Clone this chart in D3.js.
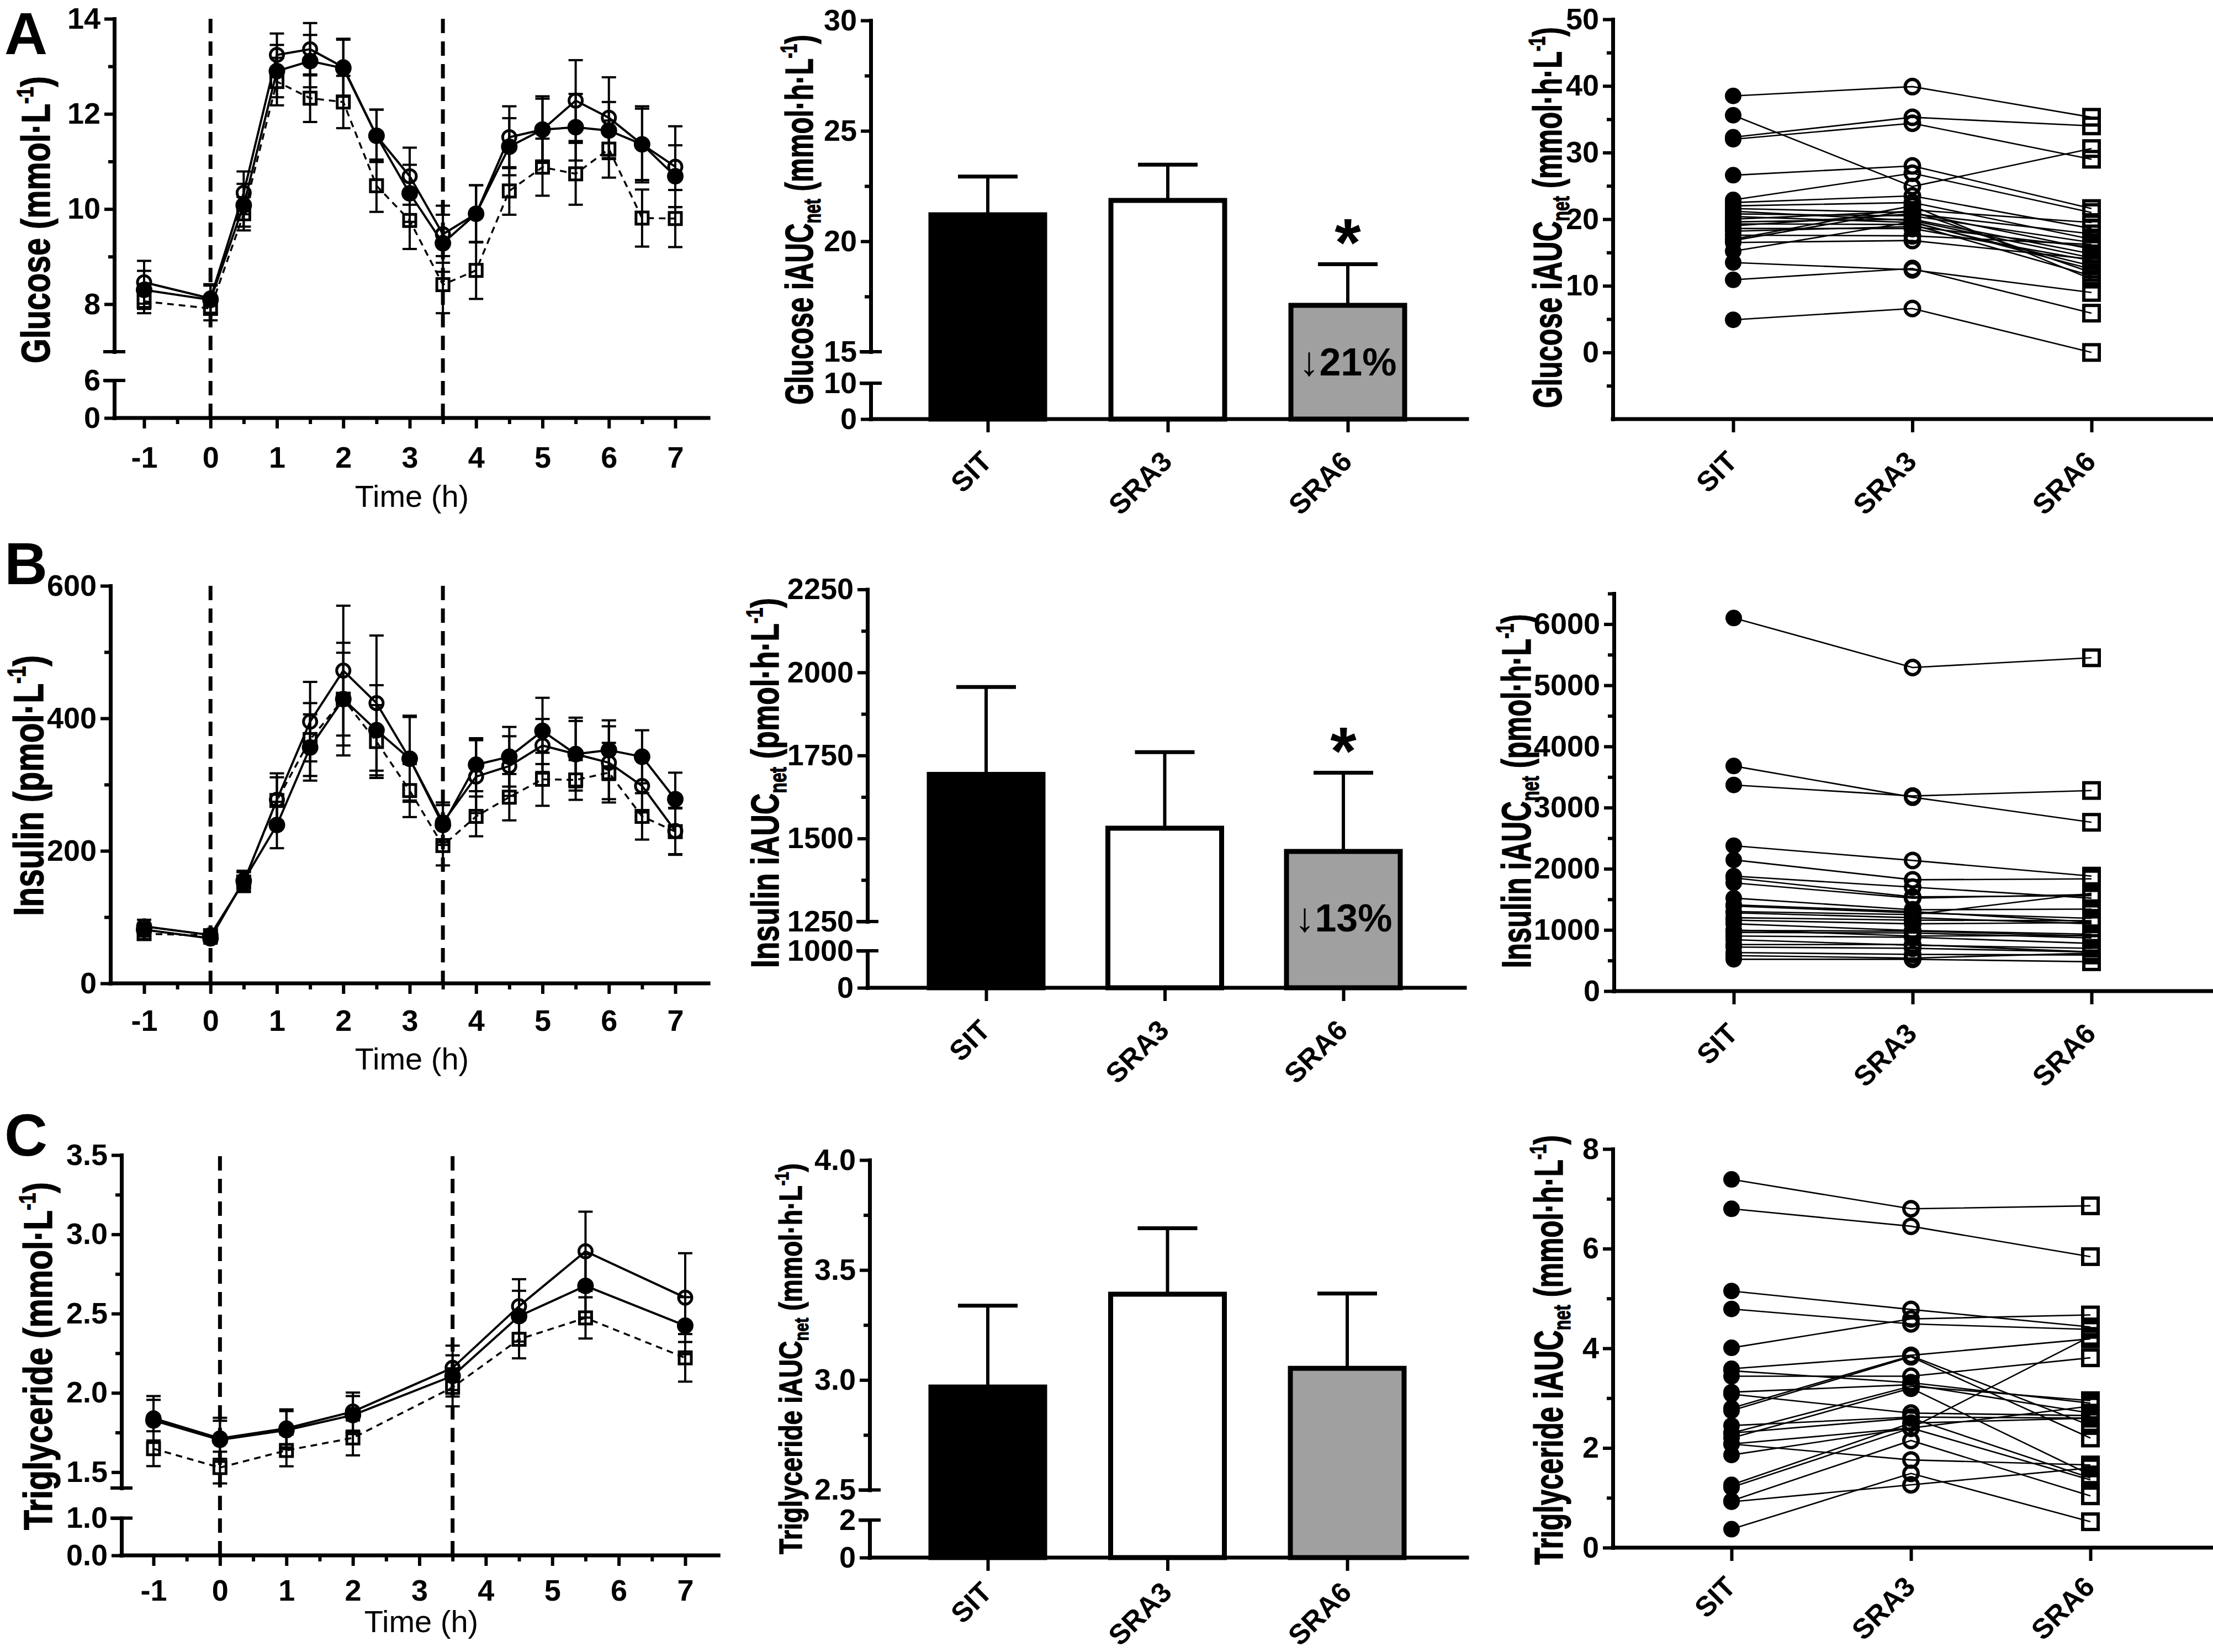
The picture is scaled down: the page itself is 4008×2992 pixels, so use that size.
<!DOCTYPE html>
<html><head><meta charset="utf-8">
<script src="https://cdn.jsdelivr.net/npm/d3@7"></script>
<style>html,body{margin:0;padding:0;background:#fff}</style>
</head><body>
<svg id="fig" width="4008" height="2992" xmlns="http://www.w3.org/2000/svg"></svg>
<script>
// ================= DATA =================
const groups = ["SIT", "SRA3", "SRA6"];
const timeGI = [-1, 0, 0.5, 1, 1.5, 2, 2.5, 3, 3.5, 4, 4.5, 5, 5.5, 6, 6.5, 7];
const timeTG = [-1, 0, 1, 2, 3.5, 4.5, 5.5, 7];
const timeTickLabels = [-1, 0, 1, 2, 3, 4, 5, 6, 7];
const timeMinorTicks = [-0.5, 0.5, 1.5, 2.5, 3.5, 4.5, 5.5, 6.5];
const mealLines = [0, 3.5];

// Glucose time course (mmol/L), mean and SEM
const glucoseSIT    = [8.30, 8.09, 10.08, 12.90, 13.11, 12.96, 11.54, 10.33, 9.28, 9.90, 11.31, 11.67, 11.72, 11.65, 11.36, 10.69];
const glucoseSITse  = [0.40, 0.30, 0.45, 0.55, 0.55, 0.60, 0.55, 0.60, 0.60, 0.60, 0.60, 0.65, 0.70, 0.60, 0.75, 0.65];
const glucoseSRA3   = [8.46, 8.12, 10.34, 13.24, 13.36, 12.98, 11.54, 10.69, 9.47, 9.90, 11.51, 11.67, 12.28, 11.92, 11.36, 10.89];
const glucoseSRA3se = [0.45, 0.30, 0.45, 0.45, 0.55, 0.60, 0.55, 0.60, 0.60, 0.60, 0.65, 0.70, 0.85, 0.85, 0.80, 0.85];
const glucoseSRA6   = [8.06, 7.91, 9.90, 12.68, 12.33, 12.25, 10.49, 9.76, 8.41, 8.71, 10.38, 10.88, 10.74, 11.26, 9.81, 9.80];
const glucoseSRA6se = [0.25, 0.25, 0.35, 0.50, 0.50, 0.55, 0.55, 0.60, 0.60, 0.60, 0.50, 0.60, 0.65, 0.60, 0.60, 0.60];

// Insulin time course (pmol/L)
const insulinSIT    = [81, 68, 155, 239, 356, 429, 382, 339, 239, 330, 342, 381, 346, 352, 342, 278];
const insulinSITse  = [10, 8, 15, 35, 50, 85, 68, 63, 30, 40, 45, 50, 55, 45, 40, 40];
const insulinSRA3   = [86, 73, 153, 277, 395, 472, 423, 339, 243, 312, 328, 359, 346, 333, 298, 230];
const insulinSRA3se = [10, 8, 15, 40, 60, 98, 102, 65, 30, 55, 45, 40, 50, 55, 40, 35];
const insulinSRA6   = [75, 72, 153, 276, 368, 429, 365, 291, 208, 252, 281, 308, 307, 318, 252, 229];
const insulinSRA6se = [8, 8, 15, 35, 55, 70, 55, 40, 30, 30, 35, 40, 30, 45, 35, 35];

// Triglyceride time course (mmol/L)
const tgSIT    = [1.826, 1.704, 1.765, 1.860, 2.107, 2.484, 2.675, 2.424];
const tgSITse  = [0.13, 0.12, 0.12, 0.12, 0.13, 0.16, 0.20, 0.18];
const tgSRA3   = [1.840, 1.713, 1.776, 1.882, 2.158, 2.547, 2.893, 2.601];
const tgSRA3se = [0.14, 0.13, 0.12, 0.12, 0.14, 0.17, 0.25, 0.28];
const tgSRA6   = [1.648, 1.529, 1.637, 1.716, 2.035, 2.338, 2.473, 2.221];
const tgSRA6se = [0.11, 0.10, 0.10, 0.11, 0.12, 0.12, 0.13, 0.15];

// iAUC net bars (mean, SEM)
const glucoseAUC   = [21.20, 21.85, 17.10];
const glucoseAUCse = [1.73, 1.62, 1.86];
const insulinAUC   = [1693, 1531, 1461];
const insulinAUCse = [263, 229, 237];
const tgAUC        = [2.968, 3.390, 3.053];
const tgAUCse      = [0.370, 0.300, 0.340];

// Individual iAUC net values
const glucoseIndSIT  = [38.5, 35.6, 32.3, 32.0, 26.6, 22.9, 22.5, 22.0, 21.6, 21.2, 20.8, 20.4, 20.0, 19.6, 19.3, 18.6, 18.2, 17.6, 16.8, 16.5, 15.2, 13.5, 10.9, 4.9, 19.0, 17.0];
const glucoseIndSRA3 = [39.9, 24.9, 35.3, 34.4, 28.0, 26.9, 23.5, 22.5, 21.0, 19.8, 20.5, 19.5, 21.2, 20.0, 19.2, 18.6, 18.9, 17.5, 21.4, 16.8, 19.6, 12.4, 12.6, 6.6, 20.8, 22.0];
const glucoseIndSRA6 = [35.3, 30.6, 34.0, 29.0, 21.6, 21.0, 18.6, 17.0, 15.5, 14.2, 16.5, 13.0, 12.0, 14.8, 11.5, 13.8, 15.8, 16.2, 19.5, 14.0, 12.5, 9.0, 5.9, 0.0, 17.8, 11.0];

const insulinIndSIT  = [6100, 3680, 3370, 2377, 2145, 1880, 1850, 1770, 1520, 1410, 1390, 1280, 1200, 1100, 990, 960, 900, 840, 760, 720, 630, 520, 1000, 1300, 1160, 580];
const insulinIndSRA3 = [5290, 3170, 3190, 2136, 1820, 1700, 1540, 1520, 1330, 1300, 1280, 1200, 1160, 990, 980, 950, 880, 750, 760, 700, 600, 520, 900, 1250, 1100, 540];
const insulinIndSRA6 = [5450, 2760, 3280, 1880, 1835, 1520, 1560, 1580, 1340, 1130, 1190, 1100, 1150, 930, 900, 870, 780, 700, 640, 640, 590, 480, 910, 1600, 1120, 620];

const tgIndSIT  = [7.39, 6.80, 5.15, 4.79, 4.01, 3.59, 3.55, 3.44, 3.12, 3.08, 2.80, 2.75, 2.45, 2.30, 2.20, 2.08, 2.08, 1.86, 1.26, 1.21, 0.94, 0.92, 0.37, 2.30];
const tgIndSRA3 = [6.80, 6.45, 4.78, 4.49, 4.59, 3.86, 3.31, 3.44, 3.27, 2.70, 3.85, 3.83, 2.62, 3.24, 3.20, 2.40, 1.76, 2.40, 2.50, 2.40, 2.15, 1.26, 1.49, 2.60];
const tgIndSRA6 = [6.86, 5.84, 4.43, 4.38, 4.67, 4.19, 2.90, 3.81, 2.70, 2.65, 2.45, 2.20, 2.60, 2.95, 1.46, 1.36, 1.66, 2.84, 2.60, 4.24, 1.04, 1.60, 0.52, 1.40];

// ================= DRAWING =================
const svg = d3.select("#fig");
svg.append("rect").attr("width", 4008).attr("height", 2992).attr("fill", "#fff");
const FONT = "'Liberation Sans', Arial, Helvetica, sans-serif";
const TICKFS = 54;
const intFmt = d => String(d);   // hyphen minus like the original

function brokenY(up, upR, lo, loR) {
  const u = d3.scaleLinear().domain(up).range(upR);
  const l = lo ? d3.scaleLinear().domain(lo).range(loR) : null;
  const f = v => (!l || v >= up[0]) ? u(v) : l(Math.min(v, lo[1]));
  f.upper = u; f.lower = l;
  return f;
}

function styleAxis(g) {
  g.attr("font-family", FONT).attr("font-size", TICKFS).attr("font-weight", "bold");
  g.selectAll(".domain").attr("stroke", "#000").attr("stroke-width", 7).attr("stroke-linecap", "square");
  g.selectAll(".tick line").attr("stroke", "#000").attr("stroke-width", 6);
  g.selectAll(".tick text").attr("fill", "#000");
}

function yAxisSeg(x, scale, major, minor, fmt) {
  const gg = svg.append("g").attr("transform", `translate(${x},0)`)
    .call(d3.axisLeft(scale).tickValues(major).tickSize(18).tickSizeOuter(0).tickPadding(7).tickFormat(fmt));
  styleAxis(gg);
  if (minor && minor.length) {
    const m = svg.append("g").attr("transform", `translate(${x},0)`)
      .call(d3.axisLeft(scale).tickValues(minor).tickSize(11).tickSizeOuter(0).tickFormat(""));
    m.select(".domain").remove();
    m.selectAll(".tick line").attr("stroke", "#000").attr("stroke-width", 6);
  }
}

function breakCaps(x, ys) {
  svg.selectAll(null).data(ys).join("line")
    .attr("x1", x - 20).attr("x2", x + 20).attr("y1", d => d).attr("y2", d => d)
    .attr("stroke", "#000").attr("stroke-width", 6);
}

function yLabel(x, cy, len, fs, parts) {
  const t = svg.append("text")
    .attr("text-anchor", "middle").attr("font-family", FONT).attr("font-weight", "bold")
    .attr("font-size", fs).attr("fill", "#000").attr("stroke", "#000").attr("stroke-width", 1.4);
  let shift = 0;
  parts.forEach(p => {
    const s = t.append("tspan").text(p[0]);
    const target = p[1] === "sup" ? -0.42 * fs : p[1] === "sub" ? 0.2 * fs : 0;
    s.attr("dy", target - shift);
    shift = target;
    if (p[1] !== "n") s.attr("font-size", 0.6 * fs);
  });
  const natural = t.node().getComputedTextLength();
  const k = len / natural;
  t.attr("transform", `translate(${x},${cy}) rotate(-90) scale(${k},1)`);
}

function drawMarker(g, kind, pts, sz) {
  if (kind === "filled") {
    g.selectAll(null).data(pts).join("circle").attr("cx", d => d[0]).attr("cy", d => d[1])
      .attr("r", sz.r).attr("fill", "#000");
  } else if (kind === "open") {
    g.selectAll(null).data(pts).join("circle").attr("cx", d => d[0]).attr("cy", d => d[1])
      .attr("r", sz.ro).attr("fill", "none").attr("stroke", "#000").attr("stroke-width", sz.sw);
  } else {
    g.selectAll(null).data(pts).join("rect").attr("x", d => d[0] - sz.s / 2).attr("y", d => d[1] - sz.s / 2)
      .attr("width", sz.s).attr("height", sz.s).attr("fill", "none").attr("stroke", "#000").attr("stroke-width", sz.sw);
  }
}

const markerKinds = ["filled", "open", "square"];

// ---------- line (time-course) panels ----------
function linePanel(o) {
  const x = d3.scaleLinear().domain([-1, 7]).range(o.xr);
  const y = o.y;
  const g = svg.append("g");
  g.selectAll(null).data(mealLines).join("line")
    .attr("x1", d => x(d)).attr("x2", d => x(d)).attr("y1", o.top).attr("y2", o.xAxisY)
    .attr("stroke", "#000").attr("stroke-width", 7).attr("stroke-dasharray", "26,15");
  [2, 1, 0].forEach(si => {
    const s = o.series[si];
    const pts = o.time.map((t, i) => ({ t, v: s.v[i], e: s.e[i] }));
    const sg = g.append("g");
    const eb = sg.append("g").attr("stroke", "#000").attr("stroke-width", 4);
    eb.selectAll(null).data(pts).join("line")
      .attr("x1", d => x(d.t)).attr("x2", d => x(d.t)).attr("y1", d => y(d.v - d.e)).attr("y2", d => y(d.v + d.e));
    eb.selectAll(null).data(pts).join("line")
      .attr("x1", d => x(d.t) - 13).attr("x2", d => x(d.t) + 13).attr("y1", d => y(d.v + d.e)).attr("y2", d => y(d.v + d.e));
    eb.selectAll(null).data(pts).join("line")
      .attr("x1", d => x(d.t) - 13).attr("x2", d => x(d.t) + 13).attr("y1", d => y(d.v - d.e)).attr("y2", d => y(d.v - d.e));
    sg.append("path").datum(pts)
      .attr("d", d3.line().x(d => x(d.t)).y(d => y(d.v)))
      .attr("fill", "none").attr("stroke", "#000").attr("stroke-width", si === 2 ? 3.5 : 4)
      .attr("stroke-dasharray", si === 2 ? "12,9" : null).attr("stroke-linejoin", "round");
    drawMarker(sg, markerKinds[si], pts.map(d => [x(d.t), y(d.v)]), { r: 15, ro: 12, s: 22, sw: 5 });
  });
  o.yAxes.forEach(a => yAxisSeg(o.axisX, a.scale, a.major, a.minor, a.fmt));
  if (o.breaks) breakCaps(o.axisX, o.breaks);
  svg.append("line").attr("x1", o.axisX).attr("x2", x(7.5)).attr("y1", o.xAxisY).attr("y2", o.xAxisY)
    .attr("stroke", "#000").attr("stroke-width", 7).attr("stroke-linecap", "square");
  const xa = svg.append("g").attr("transform", `translate(0,${o.xAxisY})`)
    .call(d3.axisBottom(x).tickValues(timeTickLabels).tickSize(19).tickSizeOuter(0).tickFormat(intFmt));
  styleAxis(xa);
  xa.select(".domain").remove();
  xa.selectAll(".tick text").attr("y", o.xLabOff).attr("dy", 0);
  const xm = svg.append("g").attr("transform", `translate(0,${o.xAxisY})`)
    .call(d3.axisBottom(x).tickValues(timeMinorTicks).tickSize(11).tickFormat(""));
  xm.select(".domain").remove();
  xm.selectAll(".tick line").attr("stroke", "#000").attr("stroke-width", 6);
  svg.append("text").attr("x", o.titleX).attr("y", o.titleY).attr("text-anchor", "middle")
    .attr("font-family", FONT).attr("font-size", 56).attr("fill", "#000").text("Time (h)");
}

// ---------- bar panels ----------
function barPanel(o) {
  const cx = d3.scalePoint().domain(groups).range(o.cr);
  const y = o.y;
  const fills = ["#000", "#fff", "#a0a0a0"];
  const data = groups.map((gname, i) => ({ g: gname, v: o.v[i], e: o.e[i], f: fills[i] }));
  const g = svg.append("g");
  g.selectAll(null).data(data).join("line")
    .attr("x1", d => cx(d.g)).attr("x2", d => cx(d.g)).attr("y1", d => y(d.v)).attr("y2", d => y(d.v + d.e))
    .attr("stroke", "#000").attr("stroke-width", 6);
  g.selectAll(null).data(data).join("line")
    .attr("x1", d => cx(d.g) - 54).attr("x2", d => cx(d.g) + 54).attr("y1", d => y(d.v + d.e)).attr("y2", d => y(d.v + d.e))
    .attr("stroke", "#000").attr("stroke-width", 7);
  g.selectAll(null).data(data).join("rect")
    .attr("x", d => cx(d.g) - 103).attr("width", 206)
    .attr("y", d => y(d.v)).attr("height", d => o.xAxisY - y(d.v))
    .attr("fill", d => d.f).attr("stroke", "#000").attr("stroke-width", 9);
  o.yAxes.forEach(a => yAxisSeg(o.axisX, a.scale, a.major, a.minor, a.fmt));
  breakCaps(o.axisX, o.breaks);
  catAxis(cx, o.axisX, o.xEnd, o.xAxisY, o.labOff);
  if (o.star) {
    const d = data[2];
    svg.append("text").attr("x", cx(d.g)).attr("y", y(d.v + d.e) + 2).attr("text-anchor", "middle")
      .attr("font-family", FONT).attr("font-weight", "bold").attr("font-size", 122).attr("fill", "#000").text("*");
    const t = svg.append("text").attr("x", cx(d.g)).attr("y", o.noteY).attr("text-anchor", "middle")
      .attr("font-family", FONT).attr("font-weight", "bold").attr("font-size", 70).attr("fill", "#000");
    t.append("tspan").attr("font-weight", "normal").attr("font-size", 74).text("\u2193");
    t.append("tspan").text(o.note);
  }
}

function catAxis(cx, axisX, xEnd, xAxisY, labOff) {
  svg.append("line").attr("x1", axisX).attr("x2", xEnd).attr("y1", xAxisY).attr("y2", xAxisY)
    .attr("stroke", "#000").attr("stroke-width", 7).attr("stroke-linecap", "square");
  const xa = svg.append("g").attr("transform", `translate(0,${xAxisY})`)
    .call(d3.axisBottom(cx).tickSize(24).tickSizeOuter(0));
  styleAxis(xa);
  xa.select(".domain").remove();
  xa.selectAll(".tick text").attr("x", 0).attr("y", 0).attr("dy", 0).attr("font-size", 51)
    .attr("text-anchor", "end").attr("transform", `translate(10,${labOff}) rotate(-45)`);
}

// ---------- before-after scatter panels ----------
function scatterPanel(o) {
  const cx = d3.scalePoint().domain(groups).range(o.cr);
  const y = d3.scaleLinear().domain(o.dom).range(o.rng);
  const subjects = o.a.map((v, i) => [o.a[i], o.b[i], o.c[i]]);
  const g = svg.append("g");
  g.selectAll(null).data(subjects).join("path")
    .attr("d", d => d3.line()(d.map((v, j) => [cx(groups[j]), y(v)])))
    .attr("fill", "none").attr("stroke", "#000").attr("stroke-width", 2.6);
  [o.a, o.b, o.c].forEach((arr, j) => {
    drawMarker(g, markerKinds[j], arr.map(v => [cx(groups[j]), y(v)]), { r: 15, ro: 13, s: 28, sw: 6 });
  });
  yAxisSeg(o.axisX, y, o.major, o.minor, intFmt);
  catAxis(cx, o.axisX, o.xEnd, o.xAxisY, o.labOff);
}

// ===== Panel letters =====
[["A", 98], ["B", 1058], ["C", 2093]].forEach(([t, yy]) => {
  svg.append("text").attr("x", 8).attr("y", yy).attr("font-family", FONT).attr("font-weight", "bold")
    .attr("font-size", 108).attr("fill", "#000").text(t);
});

// ===== Row A =====
const yGluLine = brokenY([7, 14], [637, 34], [0, 6], [757, 689]);
linePanel({
  xr: [261, 1223], axisX: 207, xAxisY: 757, top: 34, y: yGluLine, time: timeGI,
  series: [{ v: glucoseSIT, e: glucoseSITse }, { v: glucoseSRA3, e: glucoseSRA3se }, { v: glucoseSRA6, e: glucoseSRA6se }],
  yAxes: [{ scale: yGluLine.upper, major: [8, 10, 12, 14], minor: [9, 11, 13], fmt: intFmt },
          { scale: yGluLine.lower, major: [0, 6], minor: [], fmt: intFmt }],
  breaks: [637, 689], xLabOff: 90, titleX: 746, titleY: 918
});
yLabel(90, 398, 520, 72, [["Glucose (mmol\u00b7L", "n"], ["-1", "sup"], [")", "n"]]);

const yGluBar = brokenY([15, 30], [637, 37], [0, 10], [759, 694]);
barPanel({
  cr: [1789, 2441], axisX: 1577, xAxisY: 759, xEnd: 2657, y: yGluBar, v: glucoseAUC, e: glucoseAUCse,
  yAxes: [{ scale: yGluBar.upper, major: [15, 20, 25, 30], minor: [17.5, 22.5, 27.5], fmt: intFmt },
          { scale: yGluBar.lower, major: [0, 10], minor: [], fmt: intFmt }],
  breaks: [637, 694], star: true, note: "21%", noteY: 680, labOff: 80
});
yLabel(1472, 398, 670, 70, [["Glucose iAUC", "n"], ["net", "sub"], [" (mmol\u00b7h\u00b7L", "n"], ["-1", "sup"], [")", "n"]]);

scatterPanel({
  cr: [3139, 3788], axisX: 2921, xAxisY: 759, xEnd: 4005, dom: [-10, 50], rng: [759, 35],
  major: [0, 10, 20, 30, 40, 50], minor: [-5, 5, 15, 25, 35, 45],
  a: glucoseIndSIT, b: glucoseIndSRA3, c: glucoseIndSRA6, labOff: 80
});
yLabel(2828, 394, 690, 72, [["Glucose iAUC", "n"], ["net", "sub"], [" (mmol\u00b7h\u00b7L", "n"], ["-1", "sup"], [")", "n"]]);

// ===== Row B =====
const yInsLine = brokenY([0, 600], [1781, 1061], null, null);
linePanel({
  xr: [261, 1223], axisX: 200, xAxisY: 1781, top: 1061, y: yInsLine, time: timeGI,
  series: [{ v: insulinSIT, e: insulinSITse }, { v: insulinSRA3, e: insulinSRA3se }, { v: insulinSRA6, e: insulinSRA6se }],
  yAxes: [{ scale: yInsLine.upper, major: [0, 200, 400, 600], minor: [100, 300, 500], fmt: intFmt }],
  breaks: null, xLabOff: 86, titleX: 746, titleY: 1937
});
yLabel(78, 1423, 472, 76, [["Insulin (pmol\u00b7L", "n"], ["-1", "sup"], [")", "n"]]);

const yInsBar = brokenY([1250, 2250], [1669, 1067.5], [0, 1000], [1789, 1722]);
barPanel({
  cr: [1786, 2433], axisX: 1571, xAxisY: 1789, xEnd: 2653, y: yInsBar, v: insulinAUC, e: insulinAUCse,
  yAxes: [{ scale: yInsBar.upper, major: [1250, 1500, 1750, 2000, 2250], minor: [1375, 1625, 1875, 2125], fmt: intFmt },
          { scale: yInsBar.lower, major: [0, 1000], minor: [], fmt: intFmt }],
  breaks: [1669, 1722], star: true, note: "13%", noteY: 1687, labOff: 80
});
yLabel(1410, 1418, 670, 70, [["Insulin iAUC", "n"], ["net", "sub"], [" (pmol\u00b7h\u00b7L", "n"], ["-1", "sup"], [")", "n"]]);

scatterPanel({
  cr: [3140, 3788], axisX: 2923, xAxisY: 1795, xEnd: 4005, dom: [0, 6500], rng: [1795, 1075],
  major: [0, 1000, 2000, 3000, 4000, 5000, 6000], minor: [500, 1500, 2500, 3500, 4500, 5500, 6500],
  a: insulinIndSIT, b: insulinIndSRA3, c: insulinIndSRA6, labOff: 80
});
yLabel(2772, 1433, 641, 74, [["Insulin iAUC", "n"], ["net", "sub"], [" (pmol\u00b7h\u00b7L", "n"], ["-1", "sup"], [")", "n"]]);

// ===== Row C =====
const yTgLine = brokenY([1.4, 3.5], [2695, 2092], [0, 1], [2817, 2749.5]);
linePanel({
  xr: [278, 1241], axisX: 220, xAxisY: 2817, top: 2094, y: yTgLine, time: timeTG,
  series: [{ v: tgSIT, e: tgSITse }, { v: tgSRA3, e: tgSRA3se }, { v: tgSRA6, e: tgSRA6se }],
  yAxes: [{ scale: yTgLine.upper, major: [1.5, 2.0, 2.5, 3.0, 3.5], minor: [1.75, 2.25, 2.75, 3.25], fmt: d3.format(".1f") },
          { scale: yTgLine.lower, major: [0, 1], minor: [], fmt: d3.format(".1f") }],
  breaks: [2695, 2749.5], xLabOff: 82, titleX: 763, titleY: 2956
});
yLabel(94, 2456, 630, 72, [["Triglyceride (mmol\u00b7L", "n"], ["-1", "sup"], [")", "n"]]);

const yTgBar = brokenY([2.5, 4.0], [2698.5, 2101], [0, 2], [2821, 2753]);
barPanel({
  cr: [1789, 2440], axisX: 1575, xAxisY: 2821, xEnd: 2657, y: yTgBar, v: tgAUC, e: tgAUCse,
  yAxes: [{ scale: yTgBar.upper, major: [2.5, 3.0, 3.5, 4.0], minor: [2.75, 3.25, 3.75], fmt: d3.format(".1f") },
          { scale: yTgBar.lower, major: [0, 2], minor: [], fmt: intFmt }],
  breaks: [2698.5, 2753], star: false, labOff: 66
});
yLabel(1452, 2461, 708, 58, [["Triglyceride iAUC", "n"], ["net", "sub"], [" (mmol\u00b7h\u00b7L", "n"], ["-1", "sup"], [")", "n"]]);

scatterPanel({
  cr: [3136, 3786], axisX: 2921, xAxisY: 2803, xEnd: 4005, dom: [0, 8], rng: [2803, 2081],
  major: [0, 2, 4, 6, 8], minor: [1, 3, 5, 7],
  a: tgIndSIT, b: tgIndSRA3, c: tgIndSRA6, labOff: 74
});
yLabel(2830, 2445, 778, 72, [["Triglyceride iAUC", "n"], ["net", "sub"], [" (mmol\u00b7h\u00b7L", "n"], ["-1", "sup"], [")", "n"]]);
</script>
</body></html>
